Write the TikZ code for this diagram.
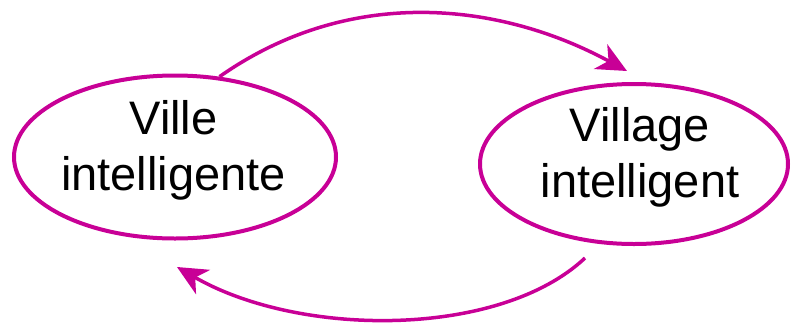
\documentclass[tikz,border=0pt]{standalone}
\usepackage{fontspec}
\setmainfont{Liberation Sans}
\usetikzlibrary{shapes.geometric,arrows.meta}
\definecolor{mag}{RGB}{200,0,150}
\tikzset{
  cityellipse/.style={ellipse, draw=mag, line width=4pt, inner sep=0pt},
  citytext/.style={align=center, font=\fontsize{47}{56}\selectfont, inner sep=0pt},
  flow/.style={draw=mag, line width=3.5pt,
    -{Stealth[length=30pt,width=28pt,inset=9pt]}}
}
\begin{document}
\begin{tikzpicture}[x=1pt,y=-1pt]
\useasboundingbox (0,0) rectangle (793,325);
\node[cityellipse, minimum width=322pt, minimum height=163pt] (L) at (175,157) {};
\node[cityellipse, minimum width=308pt, minimum height=160pt] (R) at (634,164) {};
\node[citytext] (Lt) at (173.5,150.5) {Ville\\intelligente};
\node[citytext] (Rt) at (640,157) {Village\\intelligent};
\coordinate (topend) at (627,71);
\coordinate (botstart) at (585,258);
\coordinate (botend) at (177,267);
\draw[flow] (L.61) .. controls (350,-15) and (500,2) .. (topend);
\draw[flow] (botstart) .. controls (500,338) and (300,338) .. (botend);
\end{tikzpicture}
\end{document}
